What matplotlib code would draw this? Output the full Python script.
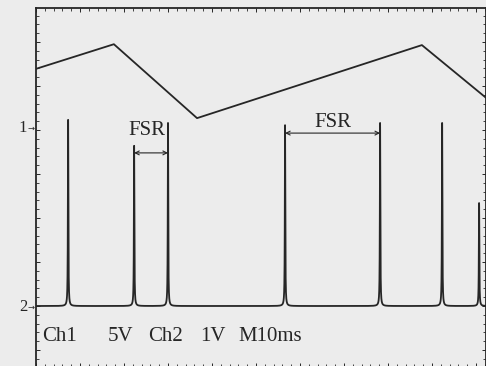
import numpy as np
import matplotlib.pyplot as plt
from matplotlib.ticker import MultipleLocator

# channel 1: ramp (x in ms, y in divisions above the ch2 baseline)
ramp_t = [0.0, 17.7, 36.6, 87.7, 102.3]
ramp_v = [5.39, 5.95, 4.27, 5.93, 4.73]

# channel 2: transmission peaks
peak_t = [7.3, 22.3, 30.0, 56.6, 78.2, 92.3, 100.7]
peak_h = [4.23, 3.64, 4.16, 4.11, 4.16, 4.16, 2.34]

# FSR markers: (start, end, arrow y, text x, text y)
fsr_marks = [(22.3, 30.0, 3.48, 25.2, 4.0),
             (56.6, 78.2, 3.93, 67.5, 4.16)]

bottom_labels = ['Ch1', '5V', 'Ch2', '1V', 'M10ms']
bottom_x = [1.36, 16.4, 25.5, 37.3, 45.9]

ink = '#262626'
bg = '#ececec'
plt.rcParams['font.family'] = ['Liberation Serif', 'DejaVu Serif']

fig = plt.figure(figsize=(4.86, 3.66), dpi=100)
fig.patch.set_facecolor(bg)
ax = fig.add_axes([36 / 486, -1 / 366, 450 / 486, 359 / 366])
ax.set_facecolor(bg)
ax.set_xlim(0, 102.27)
ax.set_ylim(-1.386, 6.773)

ax.plot(ramp_t, ramp_v, color=ink, lw=1.3)

# peak line shape (narrow lorentzian) on a dense grid
t = np.arange(0, 102.3, 0.01)
g = 0.06
trace = np.zeros_like(t)
for t0, h in zip(peak_t, peak_h):
    trace += h * g**2 / (g**2 + (t - t0)**2)
ax.plot(t, trace, color=ink, lw=1.3)

for a, b, ya, tx, ty in fsr_marks:
    ax.annotate('', xy=(a, ya), xytext=(b, ya),
                arrowprops=dict(arrowstyle='<->', color=ink, lw=0.8,
                                shrinkA=0, shrinkB=0, mutation_scale=7))
    ax.text(tx, ty, 'FSR', ha='center', va='center', fontsize=15, color=ink)

for lab, x in zip(bottom_labels, bottom_x):
    ax.text(x, -0.70, lab, ha='left', va='center', fontsize=15, color=ink)

ax.text(-2.0, 4.045, '1', ha='right', va='center', fontsize=12, color=ink, clip_on=False)
ax.text(-2.0, -0.02, '2', ha='right', va='center', fontsize=12, color=ink, clip_on=False)
ax.text(-1.9, 4.045, '→', ha='left', va='center', fontsize=6, color=ink,
        family='DejaVu Sans', clip_on=False)
ax.text(-1.9, -0.02, '→', ha='left', va='center', fontsize=6, color=ink,
        family='DejaVu Sans', clip_on=False)

for s in ax.spines.values():
    s.set_color(ink)
    s.set_linewidth(1.3)
ax.xaxis.set_major_locator(MultipleLocator(10))
ax.xaxis.set_minor_locator(MultipleLocator(2))
ax.yaxis.set_major_locator(MultipleLocator(1))
ax.yaxis.set_minor_locator(MultipleLocator(0.2))
ax.tick_params(which='both', direction='in', top=True, right=True,
               labelbottom=False, labelleft=False, color=ink)
ax.tick_params(which='major', length=3, width=0.7)
ax.tick_params(which='minor', length=2, width=0.6)

fig.savefig('out.png', dpi=100, facecolor=bg)
